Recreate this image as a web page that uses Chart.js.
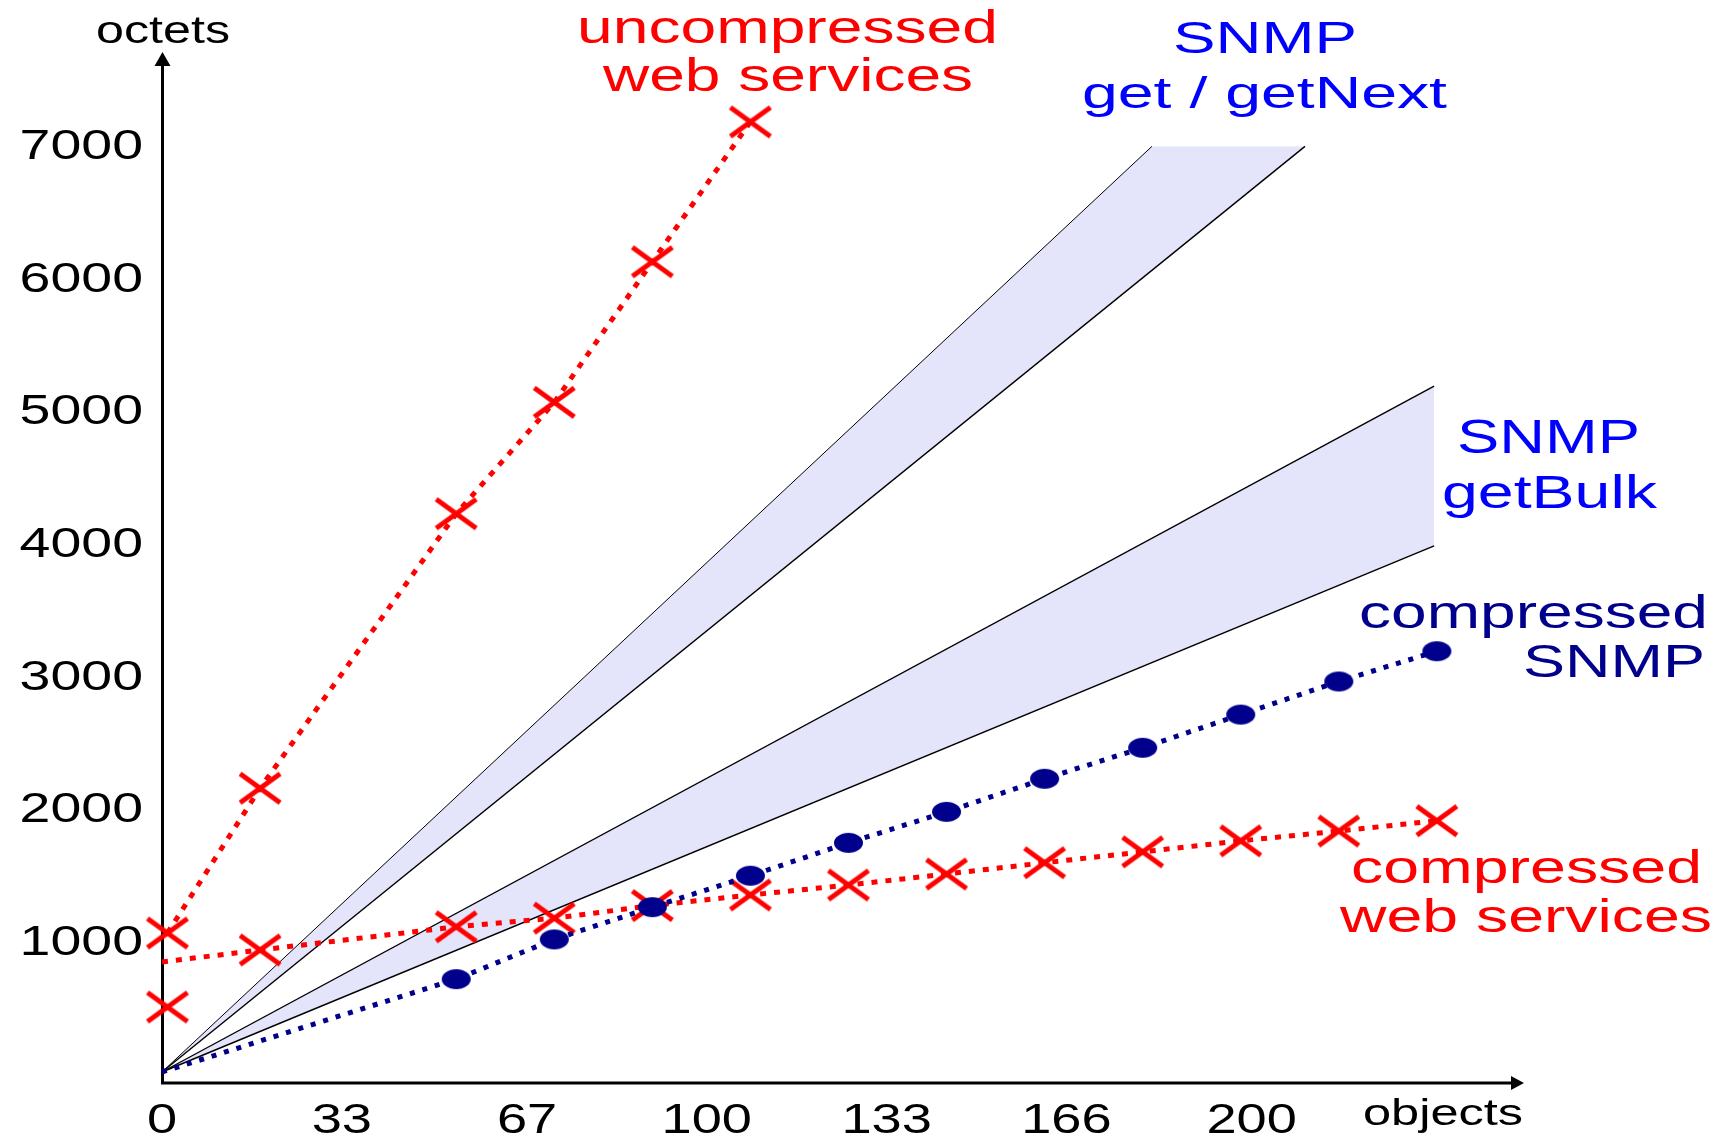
<!DOCTYPE html>
<html>
<head>
<meta charset="utf-8">
<script src="https://cdn.jsdelivr.net/npm/chart.js@4.4.1/dist/chart.umd.min.js"></script>
<style>
  html, body { margin: 0; padding: 0; background: #fff; }
  #wrap { width: 1735px; height: 1138px; }
</style>
</head>
<body>
<div id="wrap"><canvas id="grafico" width="1735" height="1138"></canvas></div>
<script>
// valores (objects -> octets)
const wsObjects = [1, 18, 54, 72, 90, 108];
const uncompressedWs = [1048, 2140, 4210, 5050, 6110, 7165];

const cwsObjects = [0, 18, 54, 72, 90, 108, 126, 144, 162, 180, 198, 216, 234];
const compressedWs = [830, 920, 1095, 1160, 1255, 1335, 1410, 1493, 1578, 1660, 1743, 1817, 1895];
const cwsLoneObjects = [1];
const cwsLone = [490];

const snmpObjects = [0, 54, 72, 90, 108, 126, 144, 162, 180, 198, 216, 234];
const compressedSnmp = [0, 700, 1000, 1243, 1480, 1728, 1962, 2211, 2445, 2695, 2945, 3173];

// faixas SNMP (bordas das cunhas)
const getNextUpperObjects = [0, 181.7, 209.8];
const getNextUpperOctets = [0, 6980, 6980];
const getNextLowerObjects = [0, 209.8];
const getNextLowerOctets = [0, 6980];
const getBulkUpperObjects = [0, 233.5];
const getBulkUpperOctets = [0, 5173];
const getBulkLowerObjects = [0, 233.5];
const getBulkLowerOctets = [0, 3967];

const yTicks = [1000, 2000, 3000, 4000, 5000, 6000, 7000];
const xTicks = [0, 33, 67, 100, 133, 166, 200];

const RED = '#ff0000', BLUE = '#0000ff', NAVY = '#00008c', BAND = '#e4e4fa';
const FONT = '"Liberation Sans", Arial, sans-serif';

const pts = (xs, ys) => xs.map((x, i) => ({ x: x, y: ys[i] }));

// marcadores (X achatado e bolinha eliptica)
function cross() {
  const c = document.createElement('canvas');
  c.width = 46; c.height = 35;
  const g = c.getContext('2d');
  g.strokeStyle = RED; g.lineWidth = 5;
  g.beginPath();
  g.moveTo(3, 3); g.lineTo(43, 32);
  g.moveTo(43, 3); g.lineTo(3, 32);
  g.stroke();
  return c;
}
function dot() {
  const c = document.createElement('canvas');
  c.width = 31; c.height = 22;
  const g = c.getContext('2d');
  g.fillStyle = NAVY;
  g.beginPath(); g.ellipse(15.5, 11, 14.5, 10, 0, 0, Math.PI * 2); g.fill();
  return c;
}
const xMark = cross();
const dMark = dot();

function stretched(ctx, text, x, base, size, width, color, align, sx) {
  ctx.save();
  ctx.font = size + 'px ' + FONT;
  const w = ctx.measureText(text).width;
  ctx.translate(x, base);
  ctx.scale(width ? width / w : sx, 1);
  ctx.textAlign = align || 'left';
  ctx.textBaseline = 'alphabetic';
  ctx.fillStyle = color;
  ctx.fillText(text, 0, 0);
  ctx.restore();
}

const notes = [
  ['octets', 96, 43, 38, 134, '#000'],
  ['uncompressed', 577, 43, 47, 421, RED],
  ['web services', 603, 91, 47, 370, RED],
  ['SNMP', 1173, 53, 45, 184, BLUE],
  ['get / getNext', 1082, 108, 45, 365, BLUE],
  ['SNMP', 1457, 453, 48, 183, BLUE],
  ['getBulk', 1442, 508, 47, 215, BLUE],
  ['compressed', 1359, 628, 46, 349, NAVY],
  ['SNMP', 1523, 677, 47, 182, NAVY],
  ['compressed', 1351, 883, 46, 351, RED],
  ['web services', 1340, 932, 46, 372, RED],
  ['objects', 1363, 1125, 37, 160, '#000']
];

// eixos com setas + textos
const eixos = {
  id: 'eixos',
  beforeDatasetsDraw(chart) {
    const { ctx, chartArea: a, scales: { x } } = chart;
    const x0 = x.getPixelForValue(0) + 0.5;
    const y0 = a.bottom;
    ctx.save();
    ctx.strokeStyle = '#000'; ctx.fillStyle = '#000'; ctx.lineWidth = 3;
    ctx.beginPath();
    ctx.moveTo(x0, y0 + 1.5); ctx.lineTo(x0, a.top + 14);
    ctx.moveTo(x0 - 1.5, y0); ctx.lineTo(a.right - 12, y0);
    ctx.stroke();
    ctx.beginPath();
    ctx.moveTo(x0, a.top); ctx.lineTo(x0 - 8, a.top + 14); ctx.lineTo(x0 + 8, a.top + 14); ctx.closePath();
    ctx.moveTo(a.right, y0); ctx.lineTo(a.right - 13, y0 - 7); ctx.lineTo(a.right - 13, y0 + 7); ctx.closePath();
    ctx.fill();
    ctx.restore();
  },
  afterDatasetsDraw(chart) {
    const { ctx, scales: { x, y } } = chart;
    yTicks.forEach(v => stretched(ctx, String(v), 143, y.getPixelForValue(v) + 15.4, 43, 0, '#000', 'right', 1.29));
    xTicks.forEach(v => stretched(ctx, String(v), x.getPixelForValue(v), 1133, 42, 0, '#000', 'center', 1.29));
    notes.forEach(n => stretched(ctx, n[0], n[1], n[2], n[3], n[4], n[5], 'left'));
  }
};

// upper edge fills down to the lower edge; lower edges drawn afterwards
const band = (xs, ys, fill, width, hideSeg, order) => ({
  data: pts(xs, ys),
  borderColor: '#000', borderWidth: width, backgroundColor: BAND,
  fill: fill, pointRadius: 0, order: order, clip: false,
  segment: { borderColor: c => c.p0DataIndex === hideSeg ? 'rgba(0,0,0,0)' : '#000' }
});

const ctx = document.getElementById('grafico').getContext('2d');
new Chart(ctx, {
  type: 'line',
  data: {
    datasets: [
      {
        label: 'compressed SNMP',
        data: pts(snmpObjects, compressedSnmp),
        borderColor: NAVY, borderWidth: 5, borderDash: [5, 8],
        pointStyle: dMark, pointRadius: snmpObjects.map((v, i) => i === 0 ? 0 : 10),
        fill: false, order: 1, clip: false
      },
      {
        label: 'compressed web services',
        data: pts(cwsObjects, compressedWs),
        borderColor: RED, borderWidth: 5, borderDash: [6, 8],
        pointStyle: xMark, pointRadius: cwsObjects.map((v, i) => i === 0 ? 0 : 10),
        fill: false, order: 2, clip: false
      },
      {
        label: 'compressed web services (start)',
        data: pts(cwsLoneObjects, cwsLone),
        showLine: false, pointStyle: xMark, pointRadius: 10,
        fill: false, order: 2, clip: false
      },
      {
        label: 'uncompressed web services',
        data: pts(wsObjects, uncompressedWs),
        borderColor: RED, borderWidth: 5, borderDash: [6, 8],
        pointStyle: xMark, pointRadius: 10,
        fill: false, order: 3, clip: false
      },
      // 4..7: faixas get/getNext e getBulk
      band(getNextUpperObjects, getNextUpperOctets, 5, 1.0, 1, 6),
      band(getNextLowerObjects, getNextLowerOctets, false, 1.4, -1, 5),
      band(getBulkUpperObjects, getBulkUpperOctets, 7, 1.4, -1, 6),
      band(getBulkLowerObjects, getBulkLowerOctets, false, 1.4, -1, 5)
    ]
  },
  options: {
    responsive: false,
    devicePixelRatio: 1,
    animation: false,
    layout: { padding: { left: 162, right: 211, top: 52, bottom: 55 } },
    plugins: { legend: { display: false }, tooltip: { enabled: false } },
    scales: {
      x: { type: 'linear', min: 0, max: 250, display: false },
      y: { type: 'linear', min: -83, max: 7692, display: false }
    }
  },
  plugins: [eixos]
});
</script>
</body>
</html>
